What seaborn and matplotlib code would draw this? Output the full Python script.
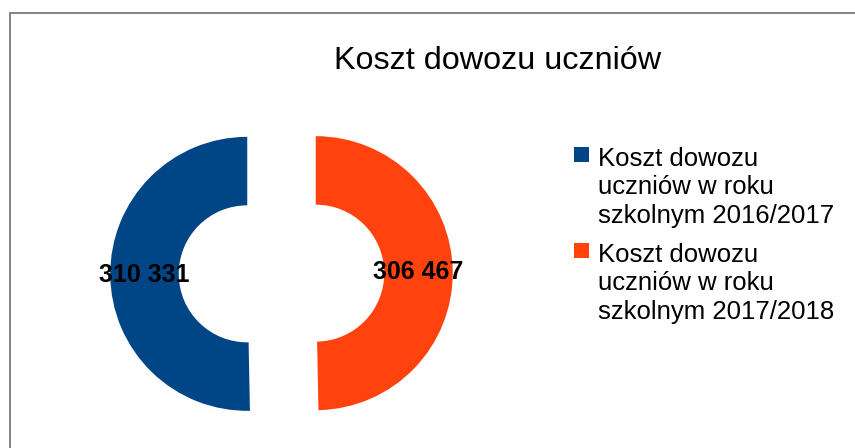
import matplotlib
matplotlib.use('Agg')
import matplotlib.pyplot as plt
import seaborn as sns
from matplotlib.patches import Rectangle

# dane
kategorie = ['Koszt dowozu uczniów w roku szkolnym 2016/2017',
             'Koszt dowozu uczniów w roku szkolnym 2017/2018']
etykiety_legendy = ['Koszt dowozu\nuczniów w roku\nszkolnym 2016/2017',
                    'Koszt dowozu\nuczniów w roku\nszkolnym 2017/2018']
koszty = [310331, 306467]
kolory = ['#004586', '#ff420e']
tytul = 'Koszt dowozu uczniów'

sns.set_theme(style="white")
plt.rcParams['font.family'] = ['Liberation Sans', 'DejaVu Sans']

W, H = 855, 448
fig = plt.figure(figsize=(W / 100, H / 100), dpi=100)

# wykres pierścieniowy
r_px = 137
cx, cy = 281.5, 273.5
side = 3 * r_px
ax = fig.add_axes([(cx - side / 2) / W, (H - cy - side / 2) / H, side / W, side / H])

def fmt(pct):
    v = pct * sum(koszty) / 100
    return f'{round(v):,}'.replace(',', ' ')

wedges, texts, autotexts = ax.pie(
    koszty, colors=kolory, startangle=90, counterclock=True,
    explode=[0.25, 0.25], autopct=fmt, pctdistance=0.75,
    wedgeprops=dict(width=0.5, linewidth=0),
    textprops=dict(fontsize=18, fontweight='bold', color='black'))
ax.set_xlim(-1.5, 1.5)
ax.set_ylim(-1.5, 1.5)
ax.set_aspect('equal')
ax.axis('off')

# tytuł
fig.text(498 / W, 1 - 69 / H, tytul, ha='center', va='baseline', fontsize=23.3, color='black')

# legenda
top_y = [147, 243]
for y0, lab, kol in zip(top_y, etykiety_legendy, kolory):
    fig.patches.append(Rectangle((574 / W, 1 - (y0 + 15) / H), 15 / W, 15 / H,
                                 transform=fig.transFigure, facecolor=kol, edgecolor='none'))
    fig.text(598 / W, 1 - (y0 + 76) / H, lab, ha='left', va='baseline',
             fontsize=18.5, linespacing=1.24, color='black')

# ramka
fig.patches.append(Rectangle((10 / W, -0.1), 1.2, 1.1 - 13 / H, transform=fig.transFigure,
                             fill=False, edgecolor='#7a7a7a', linewidth=1.3))

fig.savefig('out.png', dpi=100)
